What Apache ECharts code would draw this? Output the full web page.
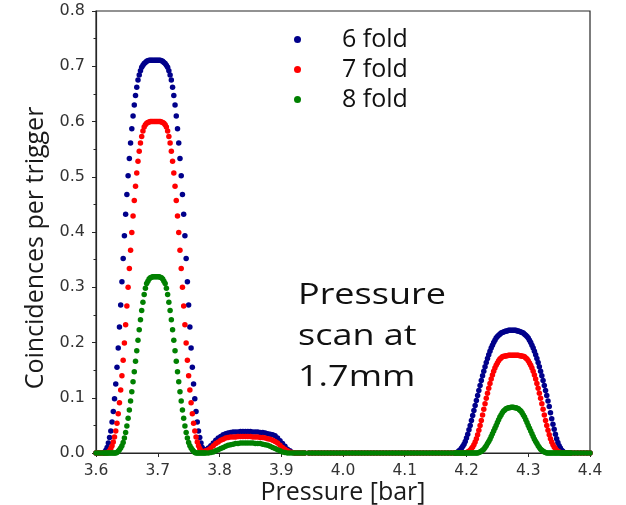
<!DOCTYPE html>
<html><head><meta charset="utf-8">
<script src="https://cdn.jsdelivr.net/npm/echarts@6/dist/echarts.min.js"></script>
<style>html,body{margin:0;padding:0;background:#fff}#c{width:626px;height:505px}</style>
</head><body><div id="c"></div>
<script>
// Pressure values (bar)
const pressure = [
3.600,3.604,3.608,
3.612,3.614,3.616,3.618,3.620,3.622,3.624,3.626,3.628,3.630,
3.632,3.634,3.636,3.638,3.640,3.642,3.644,3.646,3.648,3.650,
3.652,3.654,3.656,3.658,3.660,3.662,3.664,3.666,3.668,3.670,
3.672,3.674,3.676,3.678,3.680,3.682,3.684,3.686,3.688,3.690,
3.692,3.694,3.696,3.698,3.700,3.702,3.704,3.706,3.708,3.710,
3.712,3.714,3.716,3.718,3.720,3.722,3.724,3.726,3.728,3.730,
3.732,3.734,3.736,3.738,3.740,3.742,3.744,3.746,3.748,3.750,
3.752,3.754,3.756,3.758,3.760,3.762,3.764,3.766,3.768,3.770,
3.772,3.774,3.776,3.778,
3.782,3.786,3.790,3.794,3.798,3.802,3.806,3.810,3.814,3.818,
3.822,3.826,3.830,3.834,3.838,3.842,3.846,3.850,3.854,3.858,
3.862,3.866,3.870,3.874,3.878,3.882,3.886,3.890,3.894,3.898,
3.902,3.906,3.910,3.914,3.918,3.922,3.926,3.930,3.934,3.938,
3.945,3.950,3.955,3.960,3.965,3.970,3.975,3.980,3.985,3.990,
3.995,4.000,4.005,4.010,4.015,4.020,4.025,4.030,4.035,4.040,
4.045,4.050,4.055,4.060,4.065,4.070,4.075,4.080,4.085,4.090,
4.095,4.100,4.105,4.110,4.115,4.120,4.125,4.130,4.135,4.140,
4.145,4.150,4.155,4.160,4.165,4.170,4.175,
4.180,4.182,4.184,4.186,4.188,4.190,4.192,4.194,4.196,4.198,
4.200,4.202,4.204,4.206,4.208,4.210,4.212,4.214,4.216,4.218,
4.220,4.222,4.224,4.226,4.228,4.230,4.232,4.234,4.236,4.238,
4.240,4.242,4.244,4.246,4.248,4.250,4.252,4.254,4.256,4.258,
4.260,4.262,4.264,4.266,4.268,4.270,4.272,4.274,4.276,4.278,
4.280,4.282,4.284,4.286,4.288,4.290,4.292,4.294,4.296,4.298,
4.300,4.302,4.304,4.306,4.308,4.310,4.312,4.314,4.316,4.318,
4.320,4.322,4.324,4.326,4.328,4.330,4.332,4.334,4.336,4.338,
4.340,4.342,4.344,4.346,4.348,4.350,4.352,4.354,4.356,4.358,
4.360,4.362,4.364,4.366,4.368,4.370,
4.375,4.380,4.385,4.390,4.395,4.400
];

// 6 fold coincidences per trigger
const fold6 = [
0,0,0,
0,0.002,0.005,0.010,0.018,0.028,0.040,0.056,0.075,0.098,
0.125,0.155,0.190,0.228,0.268,0.310,0.352,0.393,0.432,0.468,
0.502,0.533,0.561,0.587,0.610,0.630,0.647,0.662,0.675,0.684,
0.692,0.698,0.702,0.705,0.707,0.709,0.710,0.711,0.711,0.711,
0.711,0.711,0.711,0.711,0.711,0.711,0.711,0.710,0.709,0.707,
0.705,0.702,0.698,0.692,0.684,0.675,0.662,0.647,0.630,0.610,
0.587,0.561,0.533,0.502,0.468,0.432,0.393,0.352,0.310,0.268,
0.228,0.190,0.155,0.125,0.098,0.075,0.056,0.040,0.028,0.018,
0.010,0.006,0.005,0.006,
0.009,0.013,0.018,0.023,0.027,0.030,0.033,0.035,0.036,0.037,
0.038,0.038,0.038,0.039,0.039,0.039,0.039,0.039,0.038,0.038,
0.038,0.037,0.037,0.036,0.035,0.034,0.033,0.031,0.027,0.022,
0.017,0.012,0.007,0.004,0.001,0,0,0,0,0,
0,0,0,0,0,0,0,0,0,0,
0,0,0,0,0,0,0,0,0,0,
0,0,0,0,0,0,0,0,0,0,
0,0,0,0,0,0,0,0,0,0,
0,0,0,0,0,0,0,
0,0,0.001,0.002,0.004,0.006,0.009,0.012,0.016,0.021,
0.027,0.034,0.042,0.050,0.059,0.068,0.077,0.086,0.095,0.104,
0.113,0.122,0.131,0.140,0.148,0.156,0.164,0.171,0.178,0.184,
0.190,0.195,0.200,0.204,0.208,0.211,0.213,0.215,0.217,0.218,
0.219,0.220,0.221,0.221,0.222,0.222,0.222,0.222,0.222,0.222,
0.222,0.221,0.221,0.220,0.219,0.218,0.217,0.215,0.213,0.211,
0.208,0.204,0.200,0.195,0.190,0.184,0.178,0.171,0.164,0.156,
0.148,0.140,0.131,0.122,0.113,0.104,0.094,0.084,0.073,0.062,
0.052,0.043,0.034,0.026,0.019,0.013,0.009,0.005,0.003,0.001,
0,0,0,0,0,0,
0,0,0,0,0,0
];

// 7 fold coincidences per trigger
const fold7 = [
0,0,0,
0,0,0,0,0.002,0.004,0.008,0.013,0.020,0.029,
0.040,0.054,0.071,0.091,0.114,0.140,0.168,0.199,0.232,0.266,
0.300,0.334,0.367,0.399,0.429,0.457,0.483,0.507,0.528,0.546,
0.561,0.573,0.583,0.590,0.594,0.597,0.598,0.599,0.600,0.600,
0.600,0.600,0.600,0.600,0.600,0.600,0.600,0.599,0.598,0.597,
0.594,0.590,0.583,0.573,0.561,0.546,0.528,0.507,0.483,0.457,
0.429,0.399,0.367,0.334,0.300,0.266,0.232,0.199,0.168,0.140,
0.114,0.091,0.071,0.054,0.040,0.029,0.020,0.013,0.008,0.004,
0.002,0.002,0.003,0.004,
0.006,0.009,0.013,0.017,0.020,0.023,0.025,0.027,0.028,0.029,
0.029,0.029,0.030,0.030,0.030,0.030,0.030,0.030,0.029,0.029,
0.029,0.028,0.028,0.027,0.026,0.025,0.023,0.021,0.018,0.014,
0.010,0.007,0.004,0.002,0.001,0,0,0,0,0,
0,0,0,0,0,0,0,0,0,0,
0,0,0,0,0,0,0,0,0,0,
0,0,0,0,0,0,0,0,0,0,
0,0,0,0,0,0,0,0,0,0,
0,0,0,0,0,0,0,
0,0,0,0,0,0,0,0,0,0,
0.001,0.002,0.003,0.005,0.008,0.011,0.015,0.020,0.026,0.033,
0.041,0.050,0.059,0.069,0.079,0.089,0.099,0.108,0.117,0.126,
0.134,0.141,0.148,0.154,0.159,0.163,0.167,0.170,0.172,0.174,
0.175,0.175,0.176,0.176,0.177,0.177,0.177,0.177,0.177,0.177,
0.177,0.177,0.177,0.176,0.176,0.175,0.175,0.174,0.172,0.170,
0.167,0.163,0.159,0.154,0.148,0.141,0.134,0.126,0.117,0.108,
0.099,0.089,0.079,0.069,0.059,0.050,0.041,0.033,0.026,0.020,
0.015,0.011,0.008,0.005,0.003,0.002,0.001,0,0,0,
0,0,0,0,0,0,
0,0,0,0,0,0
];

// 8 fold coincidences per trigger
const fold8 = [
0,0,0,
0,0,0,0,0,0,0,0,0,0,
0,0.001,0.003,0.006,0.009,0.013,0.019,0.027,0.037,0.049,
0.063,0.078,0.094,0.111,0.129,0.147,0.166,0.185,0.204,0.223,
0.241,0.258,0.273,0.287,0.298,0.307,0.311,0.315,0.317,0.318,
0.319,0.319,0.319,0.319,0.319,0.319,0.318,0.317,0.315,0.311,
0.307,0.298,0.287,0.273,0.258,0.241,0.223,0.204,0.185,0.166,
0.147,0.129,0.111,0.094,0.078,0.063,0.049,0.037,0.027,0.019,
0.013,0.009,0.006,0.003,0.001,0,0,0,0,0,
0,0,0,0,
0,0.001,0.002,0.004,0.006,0.008,0.010,0.012,0.014,0.015,
0.016,0.017,0.017,0.018,0.018,0.018,0.018,0.018,0.018,0.017,
0.017,0.017,0.016,0.015,0.014,0.012,0.010,0.008,0.006,0.004,
0.002,0.001,0,0,0,0,0,0,0,0,
0,0,0,0,0,0,0,0,0,0,
0,0,0,0,0,0,0,0,0,0,
0,0,0,0,0,0,0,0,0,0,
0,0,0,0,0,0,0,0,0,0,
0,0,0,0,0,0,0,
0,0,0,0,0,0,0,0,0,0,
0,0,0,0,0,0,0,0,0,0,
0.001,0.002,0.003,0.005,0.007,0.010,0.013,0.017,0.021,0.025,
0.030,0.035,0.040,0.045,0.050,0.055,0.060,0.065,0.069,0.073,
0.076,0.078,0.080,0.081,0.082,0.082,0.083,0.083,0.083,0.082,
0.082,0.081,0.080,0.078,0.076,0.073,0.069,0.065,0.060,0.055,
0.050,0.045,0.040,0.035,0.030,0.025,0.021,0.017,0.013,0.010,
0.007,0.005,0.003,0.002,0.001,0,0,0,0,0,
0,0,0,0,0,0,0,0,0,0,
0,0,0,0,0,0,
0,0,0,0,0,0
];

const seriesNames = ['6 fold', '7 fold', '8 fold'];
const seriesValues = [fold6, fold7, fold8];
const seriesColors = ['#00008b', '#ff0000', '#008000'];
const xTitle = 'Pressure [bar]';
const yTitle = 'Coincidences per trigger';
const noteText = 'Pressure\nscan at\n1.7mm';

const axisColor = '#262626';
const chart = echarts.init(document.getElementById('c'), null, {renderer: 'canvas'});

const series = seriesNames.map((name, k) => ({
  name: name,
  type: 'scatter',
  symbol: 'circle',
  symbolSize: 5.5,
  itemStyle: {color: seriesColors[k], opacity: 1},
  emphasis: {disabled: true},
  data: pressure.map((p, i) => [p, seriesValues[k][i]])
}));

chart.setOption({
  animation: false,
  backgroundColor: '#ffffff',
  grid: {left: 96, right: 36, top: 11, bottom: 52, show: true, borderColor: axisColor, borderWidth: 1.2, backgroundColor: 'transparent', containLabel: false},
  xAxis: {
    type: 'value', min: 3.6, max: 4.4, interval: 0.1,
    axisLine: {show: true, onZero: false, lineStyle: {color: axisColor, width: 1.2}},
    axisTick: {show: true, inside: false, length: 4, lineStyle: {color: axisColor, width: 1}},
    axisLabel: {formatter: v => v.toFixed(1), fontFamily: 'DejaVu Sans', fontSize: 15.5, color: '#333', margin: 10},
    splitLine: {show: false}
  },
  yAxis: {
    type: 'value', min: 0, max: 0.8, interval: 0.1,
    axisLine: {show: true, lineStyle: {color: axisColor, width: 1.2}},
    axisTick: {show: true, inside: false, length: 4, lineStyle: {color: axisColor, width: 1}},
    minorTick: {show: true, splitNumber: 2, length: 2.5, lineStyle: {color: axisColor, width: 1}},
    axisLabel: {formatter: v => v.toFixed(1), fontFamily: 'DejaVu Sans', fontSize: 16, color: '#333', margin: 11},
    splitLine: {show: false},
    minorSplitLine: {show: false}
  },
  legend: {
    data: seriesNames,
    orient: 'vertical',
    left: 294, top: 27,
    padding: 0,
    itemGap: 5,
    itemWidth: 7, itemHeight: 7,
    icon: 'circle',
    selectedMode: false,
    formatter: n => '{t|' + n + '}',
    textStyle: {rich: {t: {fontFamily: 'Open Sans', fontSize: 25, lineHeight: 28, color: '#111', padding: [0, 0, 0, 36]}}}
  },
  graphic: [
    {type: 'text', x: 298, y: 275, scaleX: 1.2, scaleY: 1, silent: true,
     style: {text: noteText, fontFamily: 'Open Sans', fontSize: 30, lineHeight: 41, fill: '#111', align: 'left', verticalAlign: 'top'}},
    {type: 'text', x: 343, y: 493, silent: true,
     style: {text: xTitle, fontFamily: 'Open Sans', fontSize: 25, fill: '#1a1a1a', align: 'center', verticalAlign: 'middle'}},
    {type: 'text', x: 36, y: 248, rotation: Math.PI / 2, silent: true,
     style: {text: yTitle, fontFamily: 'Open Sans', fontSize: 25, fill: '#1a1a1a', align: 'center', verticalAlign: 'middle'}}
  ],
  series: series
});
</script>
</body></html>
